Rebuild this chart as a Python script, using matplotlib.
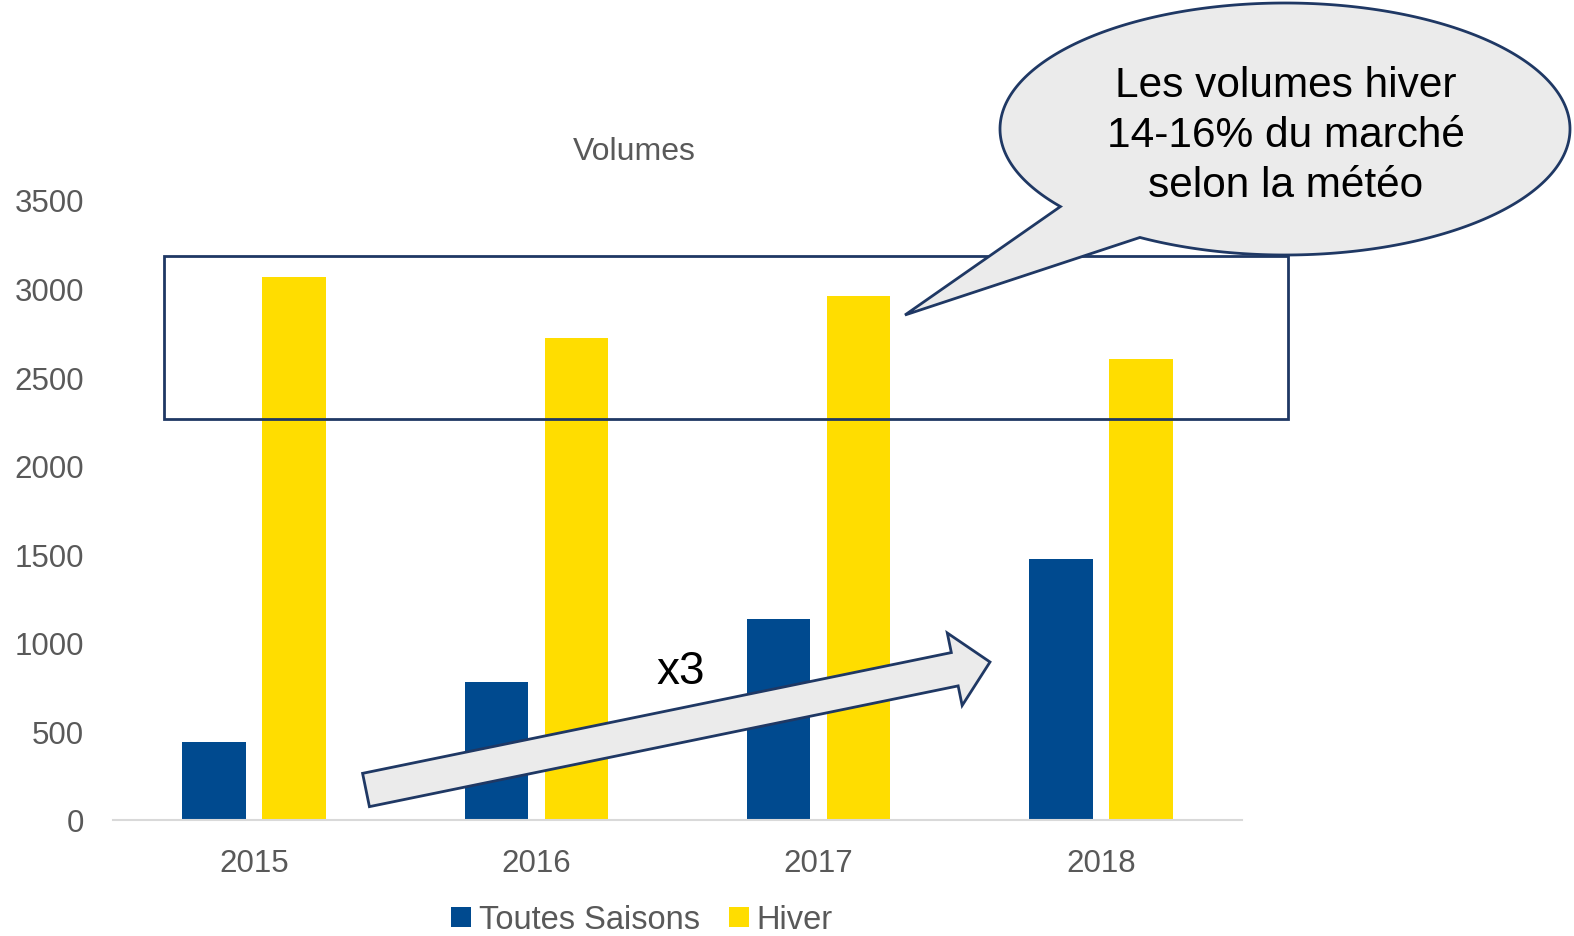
import numpy as np
import matplotlib
matplotlib.use("Agg")
import matplotlib.pyplot as plt
from matplotlib.patches import Polygon, Rectangle

plt.rcParams['font.family'] = ['Liberation Sans', 'DejaVu Sans']

# --- données ---
annees = ['2015', '2016', '2017', '2018']
toutes_saisons = [440, 780, 1135, 1475]
hiver = [3065, 2720, 2960, 2600]

BLEU = '#004A8F'
JAUNE = '#FFDD00'
CONTOUR = '#1F3864'
GRIS = '#595959'

W, H = 1574, 937
fig = plt.figure(figsize=(W / 100, H / 100), dpi=100)


def px(x, y):
    # pixels (origine en haut à gauche) -> fraction de figure
    return (x / W, 1 - y / H)


ax = fig.add_axes([113 / W, 1 - 821 / H, (1242 - 113) / W, (821 - 201) / H])
x = np.arange(len(annees))
ax.bar(x - 0.142, toutes_saisons, width=0.225, color=BLEU, label='Toutes Saisons')
ax.bar(x + 0.142, hiver, width=0.225, color=JAUNE, label='Hiver')

ax.set_xlim(-0.5, len(annees) - 0.5)
ax.set_ylim(0, 3500)
ax.set_yticks(range(0, 3501, 500))
ax.set_xticks(x)
ax.set_xticklabels(annees)
ax.tick_params(axis='both', length=0, labelsize=22.5, labelcolor=GRIS)
ax.tick_params(axis='y', pad=21)
ax.tick_params(axis='x', pad=20)
for s in ['top', 'right', 'left']:
    ax.spines[s].set_visible(False)
ax.spines['bottom'].set_color('#D9D9D9')
ax.spines['bottom'].set_linewidth(1.5)

fig.text(*px(634, 152), 'Volumes', ha='center', va='center', fontsize=23, color=GRIS)

fig.legend(loc='center', bbox_to_anchor=px(642, 921), ncol=2, frameon=False,
           fontsize=23.5, labelcolor=GRIS, handlelength=0.6, handleheight=0.6,
           handletextpad=0.25, columnspacing=0.9, borderaxespad=0, borderpad=0.1)

# --- cadre autour des volumes hiver ---
x0, y0 = px(164, 420)
x1, y1 = px(1288, 257)
fig.patches.append(Rectangle((x0, y0), x1 - x0, y1 - y0, transform=fig.transFigure,
                             fill=False, edgecolor=CONTOUR, lw=2, zorder=3))

# --- flèche x3 ---
start = np.array([366.0, 791.0])
tip = np.array([990.0, 663.0])
u = (tip - start) / np.linalg.norm(tip - start)
n = np.array([u[1], -u[0]])
base = tip - 36 * u
pts = [start + 17 * n, base + 17 * n, base + 37 * n, tip,
       base - 37 * n, base - 17 * n, start - 17 * n]
fig.patches.append(Polygon([px(*p) for p in pts], closed=True, transform=fig.transFigure,
                           facecolor='#EBEBEB', edgecolor=CONTOUR, lw=2, zorder=4))
fig.text(*px(681, 672), 'x3', ha='center', va='center', fontsize=33, color='black', zorder=5)

# --- bulle ---
cx, cy, a, b = 1285, 130, 285, 126
t = np.radians(np.linspace(142, 480.6, 300))
bulle = [(cx + a * np.cos(tt), cy + b * np.sin(tt)) for tt in t] + [(905, 316)]
fig.patches.append(Polygon([px(*p) for p in bulle], closed=True, transform=fig.transFigure,
                           facecolor='#EBEBEB', edgecolor=CONTOUR, lw=2, zorder=6))
fig.text(*px(1286, 136), 'Les volumes hiver\n14-16% du marché\nselon la météo',
         ha='center', va='center', fontsize=30.5, color='black', linespacing=1.32, zorder=7)

fig.savefig('out.png', dpi=100)
